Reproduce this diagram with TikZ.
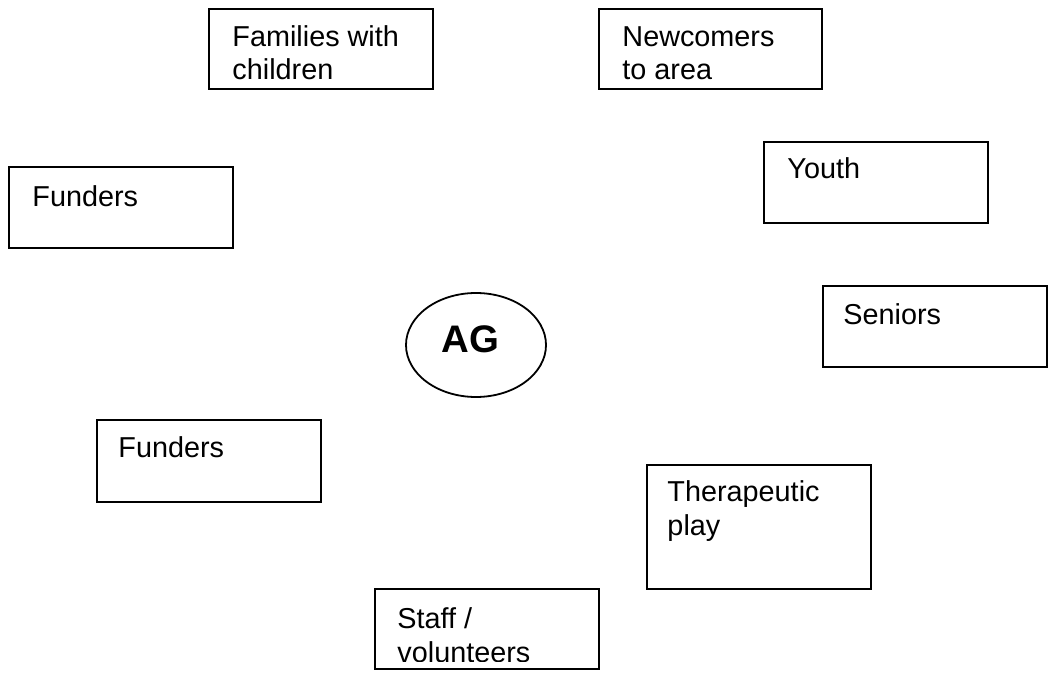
\documentclass[tikz,border=0pt]{standalone}
\usepackage{fontspec}
\setmainfont{Liberation Sans}
\usetikzlibrary{calc,shapes.geometric}
\newdimen\pxu
\pxu=0.4167pt
\tikzset{
  box/.style={draw, line width=0.75pt, minimum width=224\pxu, minimum height=80\pxu, inner sep=0pt, outer sep=0pt},
  lbl/.style={anchor=base west, inner sep=0pt, align=left, font=\fontsize{12}{13.8}\selectfont},
}
\begin{document}
\begin{tikzpicture}[x=\pxu, y=-\pxu]
\useasboundingbox (0,0) rectangle (1050,679);
% boxes
\node[box] (fam) at (321,49) {};
\node[box, minimum width=223\pxu] (new) at (710.5,49) {};
\node[box, minimum height=81\pxu] (fundA) at (121,207.5) {};
\node[box, minimum height=81\pxu] (youth) at (876,182.5) {};
\node[box, minimum height=81\pxu] (sen) at (935,326.5) {};
\node[box, minimum height=82\pxu] (fundB) at (209,461) {};
\node[box, minimum height=124\pxu] (ther) at (759,527) {};
\node[box, minimum height=80\pxu] (staff) at (487,629) {};
\node[draw, ellipse, line width=0.75pt, minimum width=140\pxu, minimum height=104\pxu, inner sep=0pt] (ag) at (476,345) {};
% labels (multi-line nodes: base is the last line)
\node[lbl] (famT) at ($(fam.north west)+(23,71)$) {Families with\\children};
\node[lbl] (newT) at ($(new.north west)+(23,71)$) {Newcomers\\to area};
\node[lbl] (fundAT) at ($(fundA.north west)+(23,40)$) {Funders};
\node[lbl] (youthT) at ($(youth.north west)+(23,37)$) {Youth};
\node[lbl] (senT) at ($(sen.north west)+(20,39)$) {Seniors};
\node[lbl] (fundBT) at ($(fundB.north west)+(21,38)$) {Funders};
\node[lbl] (therT) at ($(ther.north west)+(20,70)$) {Therapeutic\\play};
\begin{scope}
\clip ($(staff.north west)+(1,1)$) rectangle ($(staff.south east)+(-1,-8)$);
\node[lbl] (staffT) at ($(staff.north west)+(22,73)$) {Staff /\\volunteers};
\end{scope}
\node[anchor=base west, inner sep=0pt, font=\fontsize{16}{18}\selectfont\bfseries] (agT) at (441,353) {AG};
\end{tikzpicture}
\end{document}
